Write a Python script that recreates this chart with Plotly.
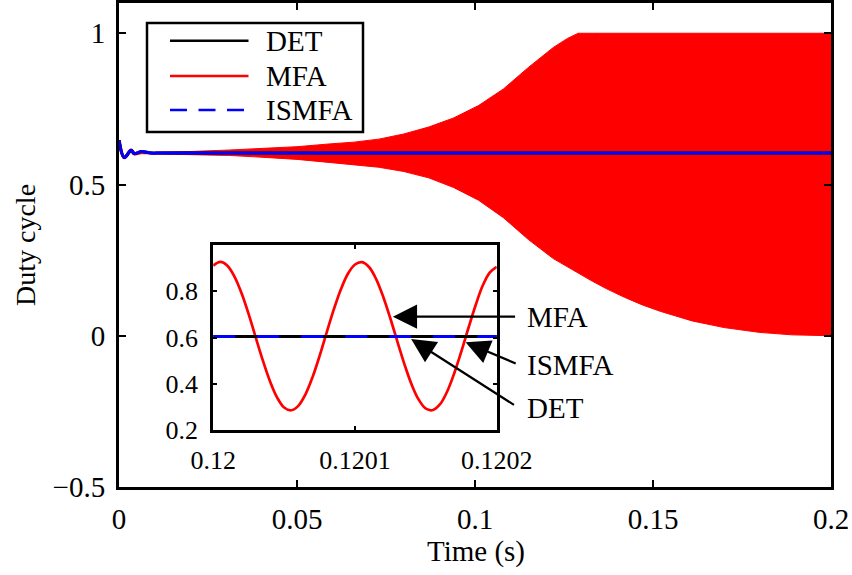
import plotly.graph_objects as go

# ---------------- data ----------------
# Start-up transient shared by all three controllers, then the steady value
t_start = [0.0, 0.0015, 0.0034, 0.0043, 0.0062, 0.009, 0.012, 0.2]
det_duty = [0.646, 0.589, 0.613, 0.602, 0.609, 0.604, 0.604, 0.604]
ismfa_duty = [0.646, 0.589, 0.613, 0.602, 0.609, 0.604, 0.604, 0.604]
mfa_start_t = [0.0, 0.0015, 0.0034, 0.0043, 0.0062]
mfa_start = [0.646, 0.589, 0.613, 0.602, 0.606]

# Envelope of the fast MFA oscillation (upper / lower bounds)
t_env = [0.006, 0.02, 0.031, 0.039, 0.05, 0.059, 0.066, 0.073, 0.08, 0.087,
         0.094, 0.101, 0.108, 0.115, 0.122, 0.126, 0.129, 0.133, 0.137, 0.142,
         0.147, 0.152, 0.161, 0.17, 0.18, 0.189, 0.2]
mfa_upper = [0.606, 0.609, 0.614, 0.618, 0.625, 0.634, 0.640, 0.650, 0.667,
             0.690, 0.720, 0.761, 0.816, 0.887, 0.953, 0.983, 1.0, 1.0, 1.0,
             1.0, 1.0, 1.0, 1.0, 1.0, 1.0, 1.0, 1.0]
mfa_lower = [0.602, 0.599, 0.596, 0.591, 0.583, 0.573, 0.566, 0.557, 0.543,
             0.522, 0.490, 0.448, 0.390, 0.318, 0.255, 0.227, 0.207, 0.180,
             0.155, 0.127, 0.102, 0.081, 0.049, 0.027, 0.011, 0.003, 0.0]

# Zoomed window around t = 0.12 s (5 microsecond steps)
t_zoom = [0.120000, 0.120005, 0.120010, 0.120015, 0.120020, 0.120025,
          0.120030, 0.120035, 0.120040, 0.120045, 0.120050, 0.120055,
          0.120060, 0.120065, 0.120070, 0.120075, 0.120080, 0.120085,
          0.120090, 0.120095, 0.120100, 0.120105, 0.120110, 0.120115,
          0.120120, 0.120125, 0.120130, 0.120135, 0.120140, 0.120145,
          0.120150, 0.120155, 0.120160, 0.120165, 0.120170, 0.120175,
          0.120180, 0.120185, 0.120190, 0.120195, 0.120200]
mfa_zoom = [0.910, 0.926, 0.910, 0.863, 0.791, 0.701, 0.600, 0.501, 0.412,
            0.342, 0.298, 0.286, 0.305, 0.354, 0.428, 0.520, 0.621, 0.720,
            0.807, 0.875, 0.915, 0.925, 0.903, 0.851, 0.774, 0.681, 0.580,
            0.482, 0.396, 0.331, 0.293, 0.287, 0.312, 0.367, 0.446, 0.540,
            0.641, 0.738, 0.823, 0.880, 0.905]
t_zoom_flat = [0.12, 0.1202]
det_zoom = [0.604, 0.604]
ismfa_zoom = [0.604, 0.604]

x_ticks = [0, 0.05, 0.1, 0.15, 0.2]
x_ticktext = ["0", "0.05", "0.1", "0.15", "0.2"]
y_ticks = [-0.5, 0, 0.5, 1]
y_ticktext = ["\u22120.5", "0", "0.5", "1"]
xz_ticks = [0.12, 0.1201, 0.1202]
xz_ticktext = ["0.12", "0.1201", "0.1202"]
yz_ticks = [0.2, 0.4, 0.6, 0.8]
yz_ticktext = ["0.2", "0.4", "0.6", "0.8"]

# ---------------- layout helpers ----------------
W, H = 852, 575
ML, MR, MT, MB = 119, 21, 3, 88
PW, PH = W - ML - MR, H - MT - MB
FONT = "Liberation Serif, Times New Roman, serif"
FS = 29


def px(x):
    return (x - ML) / PW


def py(y):
    return (H - MB - y) / PH


RED, BLUE, BLACK = "#ff0000", "#0000ff", "#000000"

fig = go.Figure()

# ---- main axes ----
fig.add_trace(go.Scatter(x=t_env, y=mfa_lower, mode="lines", line=dict(color=RED, width=1),
                         showlegend=False, hoverinfo="skip"))
fig.add_trace(go.Scatter(x=t_env, y=mfa_upper, mode="lines", fill="tonexty", fillcolor=RED,
                         line=dict(color=RED, width=1), showlegend=False, hoverinfo="skip"))
fig.add_trace(go.Scatter(x=mfa_start_t, y=mfa_start, mode="lines", line=dict(color=RED, width=3.5, shape="spline"),
                         showlegend=False))
fig.add_trace(go.Scatter(x=t_start, y=det_duty, mode="lines", line=dict(color=BLACK, width=3, shape="spline"),
                         showlegend=False))
fig.add_trace(go.Scatter(x=t_start, y=ismfa_duty, mode="lines", line=dict(color=BLUE, width=3, shape="spline"),
                         showlegend=False))

# ---- inset axes ----
fig.add_trace(go.Scatter(x=t_zoom, y=mfa_zoom, mode="lines", xaxis="x2", yaxis="y2",
                         line=dict(color=RED, width=2.7, shape="spline"), showlegend=False))
fig.add_trace(go.Scatter(x=t_zoom_flat, y=det_zoom, mode="lines", xaxis="x2", yaxis="y2",
                         line=dict(color=BLACK, width=3), showlegend=False))
fig.add_trace(go.Scatter(x=t_zoom_flat, y=ismfa_zoom, mode="lines", xaxis="x2", yaxis="y2",
                         line=dict(color=BLUE, width=3, dash="22px,22px"), showlegend=False))

axis_common = dict(showgrid=False, zeroline=False, showline=True, linecolor=BLACK,
                   ticks="inside", tickcolor=BLACK, mirror="ticks", automargin=False,
                   tickfont=dict(family=FONT, size=FS, color=BLACK))
inset_tickfont = dict(family=FONT, size=26, color=BLACK)

inset_box = (213.2, 496.8, 244.8, 430.2)  # left, right, top, bottom (px)

fig.update_layout(
    width=W, height=H,
    margin=dict(l=ML, r=MR, t=MT, b=MB, pad=0, autoexpand=False),
    paper_bgcolor="white", plot_bgcolor="white",
    font=dict(family=FONT, size=FS, color=BLACK),
    showlegend=False,
    xaxis=dict(axis_common, range=[0, 0.2], domain=[0, 1], tickvals=x_ticks, ticktext=x_ticktext,
               linewidth=3, ticklen=7, tickwidth=2, ticklabelstandoff=4),
    yaxis=dict(axis_common, range=[-0.5, 1.1], domain=[0, 1], tickvals=y_ticks, ticktext=y_ticktext,
               linewidth=3, ticklen=7, tickwidth=2, ticklabelstandoff=5),
    xaxis2=dict(axis_common, range=[0.12, 0.1202], anchor="y2",
                domain=[px(inset_box[0]), px(inset_box[1])], tickvals=xz_ticks, ticktext=xz_ticktext,
                linewidth=3, ticklen=4, tickwidth=2, ticklabelstandoff=5, tickfont=inset_tickfont),
    yaxis2=dict(axis_common, range=[0.2, 1.0], anchor="x2",
                domain=[py(inset_box[3]), py(inset_box[2])], tickvals=yz_ticks, ticktext=yz_ticktext,
                linewidth=3, ticklen=4, tickwidth=2, ticklabelstandoff=7, tickfont=inset_tickfont),
)

annotations = [
    dict(text="Time (s)", x=px(476), y=py(551), xref="paper", yref="paper", showarrow=False,
         xanchor="center", yanchor="middle"),
    dict(text="Duty cycle", x=px(25), y=py(245), xref="paper", yref="paper", showarrow=False,
         xanchor="center", yanchor="middle", textangle=-90, font=dict(size=28)),
]

# ---- legend drawn as a boxed key ----
shapes = [dict(type="rect", xref="paper", yref="paper", x0=px(147), x1=px(363), y0=py(132), y1=py(23),
               line=dict(color=BLACK, width=2.5), fillcolor="white", layer="above")]
legend_items = [("DET", BLACK, "solid", 40.7), ("MFA", RED, "solid", 76), ("ISMFA", BLUE, "17px,11.5px", 110)]
for name, color, dash, ypx in legend_items:
    shapes.append(dict(type="line", xref="paper", yref="paper", x0=px(170), x1=px(248.5), y0=py(ypx), y1=py(ypx),
                       line=dict(color=color, width=2.5, dash=dash), layer="above"))
    annotations.append(dict(text=name, x=px(264), y=py(ypx), xref="paper", yref="paper", showarrow=False,
                            xanchor="left", yanchor="middle"))

# ---- arrows pointing at the curves in the inset ----
arrows = [
    ("MFA", 0.1201267, 0.69, 123.7, 0.0, 317),
    ("ISMFA", 0.1201780, 0.579, 51.6, 21.7, 365),
    ("DET", 0.1201396, 0.593, 104.3, 66.7, 408),
]
for label, hx, hy, dx, dy, ty in arrows:
    annotations.append(dict(text="", x=hx, y=hy, xref="x2", yref="y2", showarrow=True,
                            ax=dx, ay=dy, axref="pixel", ayref="pixel",
                            arrowhead=2, arrowsize=2.2, arrowwidth=2.2, arrowcolor=BLACK))
    annotations.append(dict(text=label, x=px(525), y=py(ty), xref="paper", yref="paper", showarrow=False,
                            xanchor="left", yanchor="middle"))

fig.update_layout(annotations=annotations, shapes=shapes)

fig.write_html("out.html")
